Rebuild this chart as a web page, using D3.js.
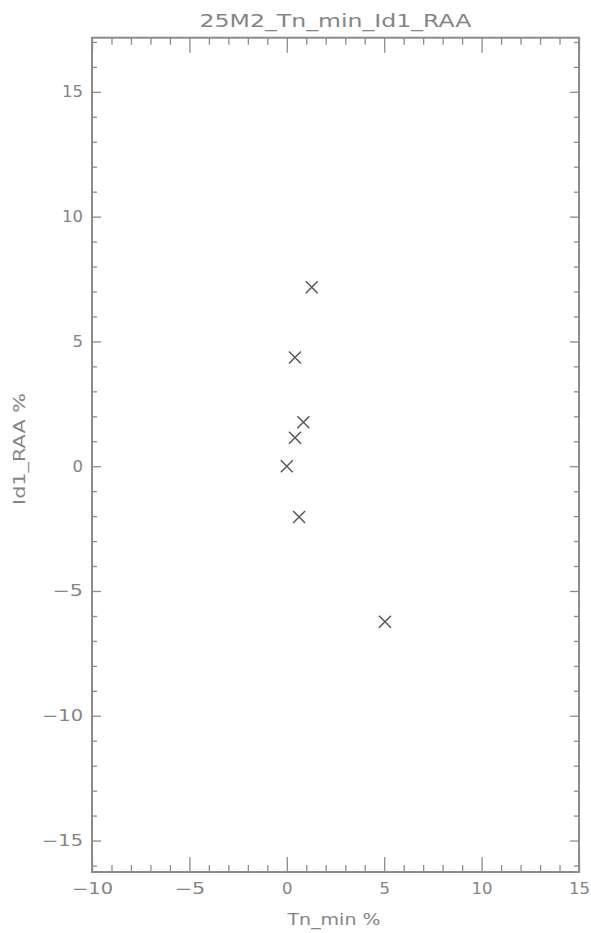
<!DOCTYPE html>
<html>
<head>
<meta charset="utf-8">
<script src="https://cdn.jsdelivr.net/npm/d3@7"></script>
<style>
  html, body { margin: 0; padding: 0; background: #fff; }
  svg { display: block; }
  text { font-family: "DejaVu Sans", sans-serif; fill: #858585; }
</style>
</head>
<body>
<svg id="chart" width="591" height="933"></svg>
<script>
// ---- data ----
const title = "25M2_Tn_min_Id1_RAA";
const xLabel = "Tn_min %";
const yLabel = "Id1_RAA %";
const xValues = [1.28, 0.42, 0.85, 0.42, 0.0, 0.63, 5.04];
const yValues = [7.17, 4.36, 1.76, 1.14, 0.0, -2.04, -6.23];
const xDomain = [-10, 15];
const yDomain = [-16.26, 17.17];
const xMajorTicks = [-10, -5, 0, 5, 10, 15];
const yMajorTicks = [-15, -10, -5, 0, 5, 10, 15];
const xMinorTicks = d3.range(-10, 16, 1);
const yMinorTicks = d3.range(-16, 18, 1);

// ---- layout ----
const mLeft = 92, mRight = 579, mTop = 37.7, mBottom = 872;
const svg = d3.select("#chart");
const FONT = "DejaVu Sans, sans-serif";
const TEXT_COLOR = "#858585";

const x = d3.scaleLinear().domain(xDomain).range([mLeft, mRight]);
const y = d3.scaleLinear().domain(yDomain).range([mBottom, mTop]);

const axisColor = "#8c8c8c";
const fmt = d => (d < 0 ? "\u2212" + Math.abs(d) : String(d));
const labLen = d => 10.5 * String(Math.abs(d)).length + (d < 0 ? 20 : 0);

function styleAxis(g) {
  g.select(".domain").remove();
  g.selectAll(".tick line").attr("stroke", axisColor).attr("stroke-width", 1.3);
}
function styleLabels(g) {
  g.selectAll(".tick text")
    .attr("font-size", 15).attr("font-family", FONT).attr("fill", TEXT_COLOR)
    .attr("textLength", d => labLen(d)).attr("lengthAdjust", "spacingAndGlyphs");
}
const xMinor = xMinorTicks.filter(v => !xMajorTicks.includes(v));
const yMinor = yMinorTicks.filter(v => !yMajorTicks.includes(v));

// bottom
svg.append("g").attr("transform", `translate(0,${mBottom})`)
  .call(d3.axisBottom(x).tickValues(xMajorTicks).tickSize(-15).tickPadding(11).tickFormat(fmt))
  .call(styleAxis).call(styleLabels);
svg.append("g").attr("transform", `translate(0,${mBottom})`)
  .call(d3.axisBottom(x).tickValues(xMinor).tickSize(-7).tickFormat(""))
  .call(styleAxis);
// top
svg.append("g").attr("transform", `translate(0,${mTop})`)
  .call(d3.axisTop(x).tickValues(xMajorTicks).tickSize(-15).tickFormat(""))
  .call(styleAxis);
svg.append("g").attr("transform", `translate(0,${mTop})`)
  .call(d3.axisTop(x).tickValues(xMinor).tickSize(-7).tickFormat(""))
  .call(styleAxis);
// left
svg.append("g").attr("transform", `translate(${mLeft},0)`)
  .call(d3.axisLeft(y).tickValues(yMajorTicks).tickSize(-9).tickPadding(9).tickFormat(fmt))
  .call(styleAxis).call(styleLabels);
svg.append("g").attr("transform", `translate(${mLeft},0)`)
  .call(d3.axisLeft(y).tickValues(yMinor).tickSize(-5).tickFormat(""))
  .call(styleAxis);
// right
svg.append("g").attr("transform", `translate(${mRight},0)`)
  .call(d3.axisRight(y).tickValues(yMajorTicks).tickSize(-9).tickFormat(""))
  .call(styleAxis);
svg.append("g").attr("transform", `translate(${mRight},0)`)
  .call(d3.axisRight(y).tickValues(yMinor).tickSize(-5).tickFormat(""))
  .call(styleAxis);

// frame
svg.append("rect")
  .attr("x", x(xDomain[0])).attr("y", y(yDomain[1]))
  .attr("width", x(xDomain[1]) - x(xDomain[0]))
  .attr("height", y(yDomain[0]) - y(yDomain[1]))
  .attr("fill", "none").attr("stroke", axisColor).attr("stroke-width", 2);

// points as X marks
const s = 6;
const pts = svg.append("g");
xValues.forEach((xv, i) => {
  const cx = x(xv), cy = y(yValues[i]);
  pts.append("path")
    .attr("d", `M${cx - s},${cy - s}L${cx + s},${cy + s}M${cx - s},${cy + s}L${cx + s},${cy - s}`)
    .attr("stroke", "#555").attr("stroke-width", 1.4).attr("fill", "none");
});

// title
svg.append("text")
  .attr("x", (mLeft + mRight) / 2).attr("y", 27)
  .attr("text-anchor", "middle").attr("font-size", 18)
  .attr("textLength", 272).attr("lengthAdjust", "spacingAndGlyphs")
  .text(title);

// x label
svg.append("text")
  .attr("x", 334).attr("y", 925)
  .attr("text-anchor", "middle").attr("font-size", 15)
  .attr("textLength", 93).attr("lengthAdjust", "spacingAndGlyphs")
  .text(xLabel);

// y label
svg.append("text")
  .attr("transform", `translate(25,449) rotate(-90)`)
  .attr("text-anchor", "middle").attr("font-size", 15)
  .attr("textLength", 112).attr("lengthAdjust", "spacingAndGlyphs")
  .text(yLabel);
</script>
</body>
</html>
